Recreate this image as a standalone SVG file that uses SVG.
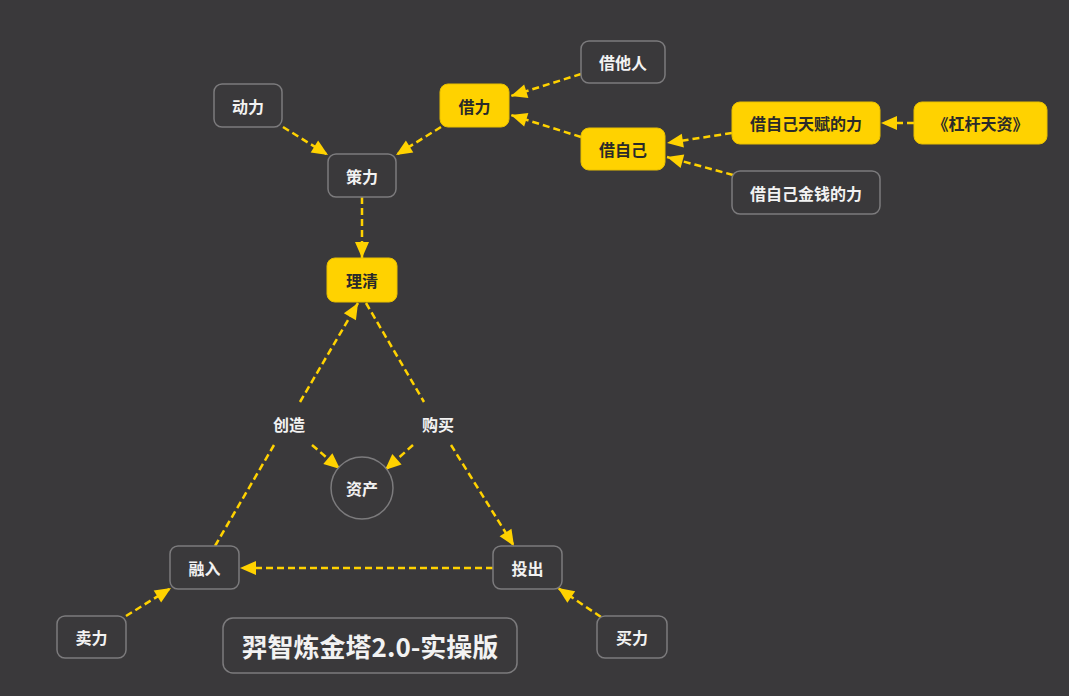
<svg xmlns="http://www.w3.org/2000/svg" width="1069" height="696" viewBox="0 0 1069 696">
  <defs>
    <style>
      .bg { fill: #3a393b; }
      .box { fill: #3a393b; stroke: #7c7b7d; stroke-width: 1.5; }
      .hl { fill: #ffd200; stroke: #e8c000; stroke-width: 1; }
      .t { font-family: "Noto Sans CJK SC", "Noto Sans", sans-serif; font-weight: 700; font-size: 16px; text-anchor: middle; dominant-baseline: central; fill: #f2f2f2; }
      .td { fill: #2a2a2a; }
      .title { font-size: 26px; }
      .edge { fill: none; stroke: #ffd200; stroke-width: 2.5; stroke-dasharray: 7 4; }
    </style>
    <marker id="arrow" markerUnits="userSpaceOnUse" markerWidth="18" markerHeight="18" viewBox="0 0 18 18" refX="17" refY="9" orient="auto">
      <path d="M1,2 L17,9 L1,16 Z" fill="#ffd200"/>
    </marker>
  </defs>

  <rect class="bg" x="0" y="0" width="1069" height="696"/>

  <!-- connectors -->
  <g id="connectors">
    <path class="edge" d="M581,74 L511,96" marker-end="url(#arrow)"/>
    <path class="edge" d="M581,137 L511,115" marker-end="url(#arrow)"/>
    <path class="edge" d="M441,127 L396,155" marker-end="url(#arrow)"/>
    <path class="edge" d="M283,127 L328,155" marker-end="url(#arrow)"/>
    <path class="edge" d="M362,197 L362,258" marker-end="url(#arrow)"/>
    <path class="edge" d="M732,133 L667,143" marker-end="url(#arrow)"/>
    <path class="edge" d="M733,175 L667,157" marker-end="url(#arrow)"/>
    <path class="edge" d="M914,123 L881,123" marker-end="url(#arrow)"/>
    <!-- 融入 → 理清 (创造) -->
    <path class="edge" d="M215,546 L274,445"/>
    <path class="edge" d="M300,402 L358,303" marker-end="url(#arrow)"/>
    <!-- 理清 → 投出 (购买) -->
    <path class="edge" d="M366,303 L424,402"/>
    <path class="edge" d="M451,445 L514,546" marker-end="url(#arrow)"/>
    <path class="edge" d="M312,445 L340,469" marker-end="url(#arrow)"/>
    <path class="edge" d="M413,445 L385,470" marker-end="url(#arrow)"/>
    <path class="edge" d="M493,568 L240,568" marker-end="url(#arrow)"/>
    <path class="edge" d="M126,616 L171,588" marker-end="url(#arrow)"/>
    <path class="edge" d="M601,617 L558,588" marker-end="url(#arrow)"/>
    <text class="t" x="289" y="424">创造</text>
    <text class="t" x="438" y="424">购买</text>
  </g>

  <g id="n-jietaren">
    <rect class="box" x="581" y="41" width="84" height="42" rx="8"/>
    <text class="t" x="623" y="62">借他人</text>
  </g>
  <g id="n-dongli">
    <rect class="box" x="214" y="84" width="68" height="43" rx="8"/>
    <text class="t" x="248" y="105.5">动力</text>
  </g>
  <g id="n-jieli">
    <rect class="hl" x="440" y="84" width="69" height="43" rx="8"/>
    <text class="t td" x="474.5" y="105.5">借力</text>
  </g>
  <g id="n-celi">
    <rect class="box" x="328" y="154" width="68" height="43" rx="8"/>
    <text class="t" x="362" y="175.5">策力</text>
  </g>
  <g id="n-jieziji">
    <rect class="hl" x="581" y="128" width="84" height="42" rx="8"/>
    <text class="t td" x="623" y="149">借自己</text>
  </g>
  <g id="n-tianfu">
    <rect class="hl" x="732" y="102" width="148" height="42" rx="8"/>
    <text class="t td" x="806" y="123">借自己天赋的力</text>
  </g>
  <g id="n-book">
    <rect class="hl" x="914" y="102" width="133" height="42" rx="8"/>
    <text class="t td" x="980.5" y="123">《杠杆天资》</text>
  </g>
  <g id="n-jinqian">
    <rect class="box" x="732" y="171" width="148" height="43" rx="8"/>
    <text class="t" x="806" y="192.5">借自己金钱的力</text>
  </g>
  <g id="n-liqing">
    <rect class="hl" x="327" y="258" width="70" height="44" rx="8"/>
    <text class="t td" x="362" y="280">理清</text>
  </g>
  <g id="n-zichan">
    <circle class="box" cx="362" cy="488" r="31"/>
    <text class="t" x="362" y="488">资产</text>
  </g>
  <g id="n-rongru">
    <rect class="box" x="170" y="546" width="69" height="43" rx="8"/>
    <text class="t" x="204.5" y="567.5">融入</text>
  </g>
  <g id="n-touchu">
    <rect class="box" x="493" y="546" width="69" height="43" rx="8"/>
    <text class="t" x="527.5" y="567.5">投出</text>
  </g>
  <g id="n-maili-sell">
    <rect class="box" x="57" y="616" width="69" height="42" rx="8"/>
    <text class="t" x="91.5" y="637">卖力</text>
  </g>
  <g id="n-maili-buy">
    <rect class="box" x="597" y="616" width="70" height="42" rx="8"/>
    <text class="t" x="632" y="637">买力</text>
  </g>
  <g id="n-title">
    <rect class="box" x="223" y="618" width="294" height="55" rx="10"/>
    <text class="t title" x="370" y="645.5">羿智炼金塔2.0-实操版</text>
  </g>
</svg>
